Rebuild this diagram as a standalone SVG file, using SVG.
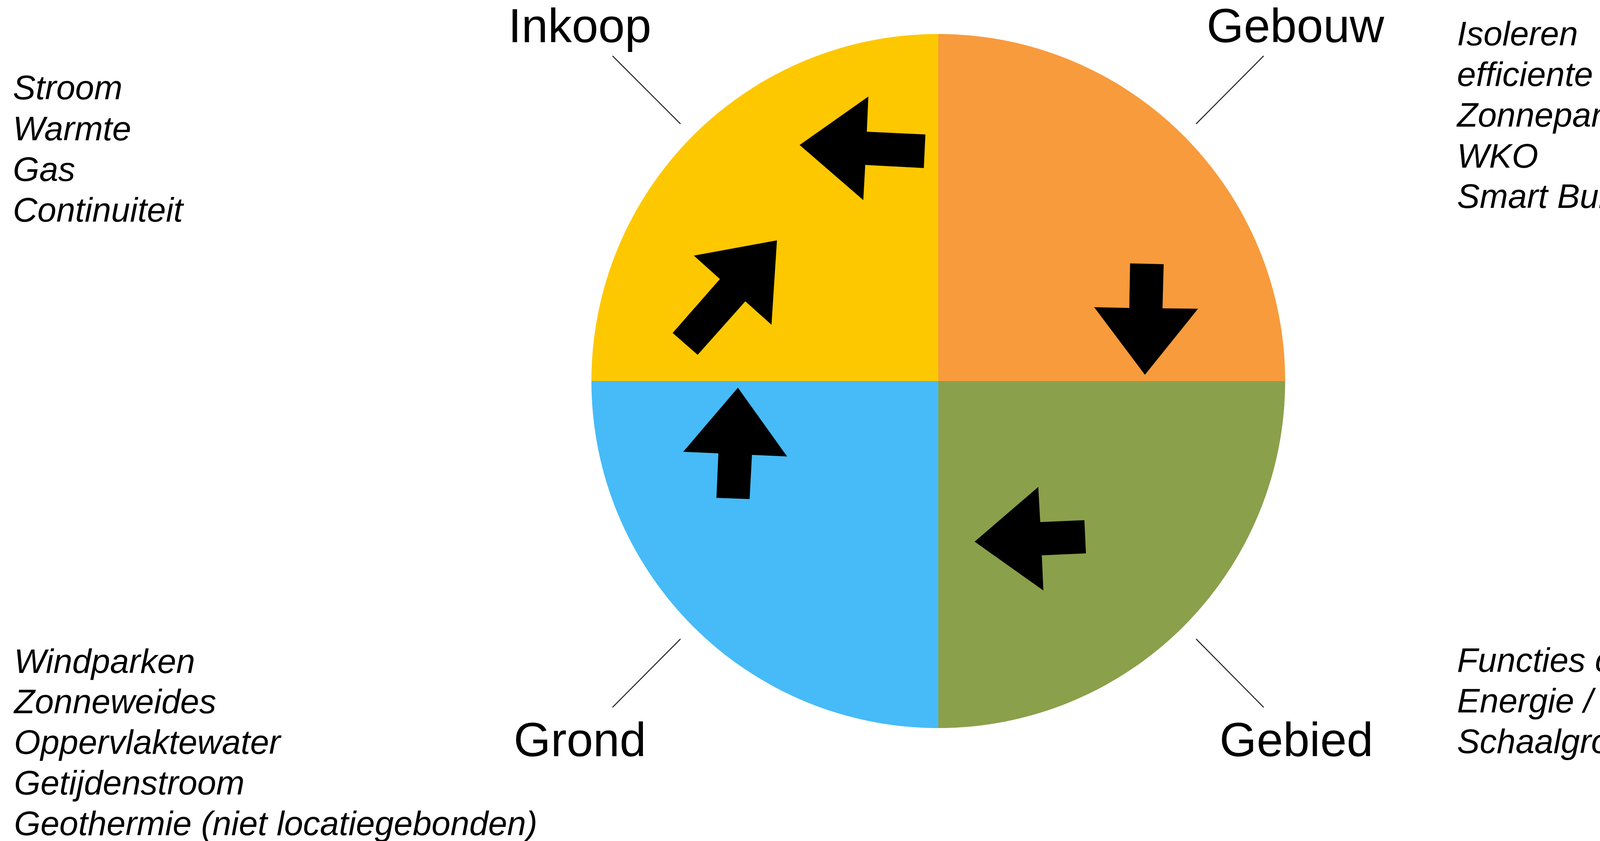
<svg xmlns="http://www.w3.org/2000/svg" width="4952" height="2152" viewBox="0 0 4952 2152">
<style>
.lbl{font-family:"Liberation Sans",Arial,sans-serif;font-size:122px;fill:#000}
.itm{font-family:"Liberation Sans",Arial,sans-serif;font-size:87px;font-style:italic;fill:#000}
.lead{stroke:#222;stroke-width:2.5;fill:none}
.arw{fill:#000}
</style>
<rect width="4952" height="2152" fill="#fff"/>
<g id="inkoop">
<path d="M2402,975 L1514,975 A888,888 0 0 1 2402,87 Z" fill="#FDC800"/>
<text class="lbl" x="1301" y="108">Inkoop</text>
<line class="lead" x1="1568" y1="143" x2="1742" y2="317"/>
<text class="itm" x="33"><tspan x="33" y="254">Stroom</tspan><tspan x="33" y="359">Warmte</tspan><tspan x="33" y="463">Gas</tspan><tspan x="33" y="567">Continuiteit</tspan></text>
</g>
<g id="gebouw">
<path d="M2402,975 L2402,87 A888,888 0 0 1 3290,975 Z" fill="#F89B3C"/>
<text class="lbl" x="3089" y="108">Gebouw</text>
<line class="lead" x1="3235" y1="143" x2="3062" y2="317"/>
<text class="itm"><tspan x="3730" y="116">Isoleren</tspan><tspan x="3730" y="220">efficiente installaties</tspan><tspan x="3730" y="324">Zonnepanelen</tspan><tspan x="3730" y="429">WKO</tspan><tspan x="3730" y="532">Smart Buildings</tspan></text>
</g>
<g id="gebied">
<path d="M2402,975 L3290,975 A888,888 0 0 1 2402,1863 Z" fill="#8AA04B"/>
<text class="lbl" x="3122" y="1935">Gebied</text>
<line class="lead" x1="3062" y1="1635" x2="3235" y2="1810"/>
<text class="itm"><tspan x="3730" y="1719">Functies combineren</tspan><tspan x="3730" y="1823">Energie / WKO delen met buren</tspan><tspan x="3730" y="1927">Schaalgroote tbv Geothermie</tspan></text>
</g>
<g id="grond">
<path d="M2402,975 L2402,1863 A888,888 0 0 1 1514,975 Z" fill="#46BBF7"/>
<text class="lbl" x="1315" y="1935">Grond</text>
<line class="lead" x1="1742" y1="1635" x2="1568" y2="1810"/>
<text class="itm"><tspan x="36" y="1722">Windparken</tspan><tspan x="36" y="1825">Zonneweides</tspan><tspan x="36" y="1929">Oppervlaktewater</tspan><tspan x="36" y="2033">Getijdenstroom</tspan><tspan x="36" y="2137">Geothermie (niet locatiegebonden)</tspan></text>
</g>
<g id="connectors">
<polygon class="arw" points="2047,371 2223,247 2219,337 2369,344 2365,430 2215,422 2210,512"/>
<polygon class="arw" points="2931,959 2801,786 2891,788 2893,674 2979,676 2976,789 3067,790"/>
<polygon class="arw" points="2495,1386 2658,1246 2663,1336 2776,1331 2780,1416 2667,1421 2671,1511"/>
<polygon class="arw" points="1889,992 2015,1168 1925,1164 1919,1277 1834,1274 1839,1160 1749,1156"/>
<polygon class="arw" points="1989,615 1975,831 1908,771 1786,908 1722,852 1843,714 1776,654"/>
</g>
</svg>
